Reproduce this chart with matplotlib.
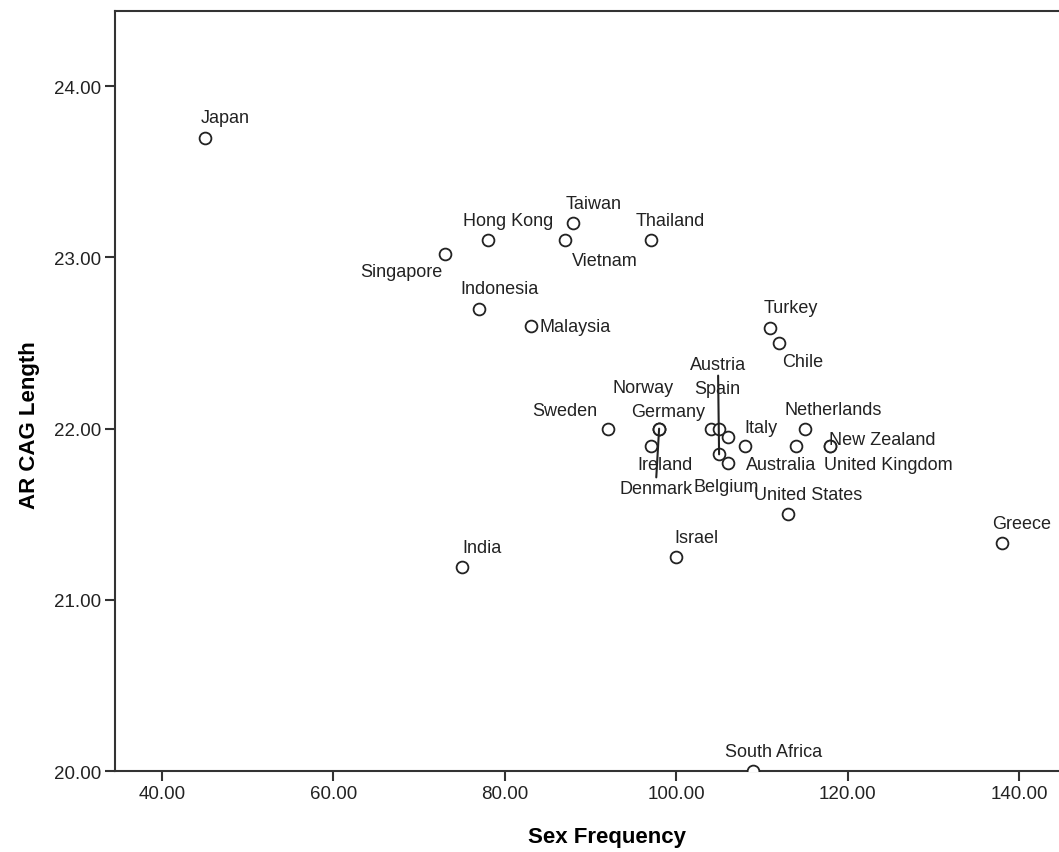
import matplotlib
matplotlib.use("Agg")
import matplotlib.pyplot as plt

# --- data ---
countries = [
    "Japan", "Singapore", "Hong Kong", "Vietnam", "Taiwan", "Thailand",
    "Indonesia", "Malaysia", "Turkey", "Chile", "Sweden", "Norway",
    "Germany", "Denmark", "Ireland", "", "Spain", "Austria", "", "Italy",
    "Belgium", "Netherlands", "Australia", "New Zealand", "United Kingdom",
    "United States", "Greece", "India", "Israel", "South Africa",
]
sex_freq = [
    45, 73, 78, 87, 88, 97,
    77, 83, 111, 112, 92, 98,
    98, 98, 97, 104, 105, 105, 106, 108,
    106, 115, 114, 118, 118,
    113, 138, 75, 100, 109,
]
cag_len = [
    23.70, 23.02, 23.10, 23.10, 23.20, 23.10,
    22.70, 22.60, 22.59, 22.50, 22.00, 22.00,
    22.00, 22.00, 21.90, 22.00, 22.00, 21.85, 21.95, 21.90,
    21.80, 22.00, 21.90, 21.90, 21.90,
    21.50, 21.33, 21.19, 21.25, 20.00,
]

# label placement in pixels relative to the point (default is above, slightly right)
DEFAULT_OFF = (20, 20)
label_offsets = {
    "Singapore": (-44, -17),
    "Vietnam": (40, -20),
    "Malaysia": (45, -1),
    "Chile": (24, -18),
    "Sweden": (-43, 18),
    "Norway": (-16, 41),
    "Germany": (9, 17),
    "Denmark": (-3, -60),
    "Ireland": (14, -19),
    "Spain": (-2, 40),
    "Austria": (-1, 90),
    "Italy": (16, 18),
    "Belgium": (-1, -24),
    "Netherlands": (28, 19),
    "Australia": (-15, -19),
    "New Zealand": (52, 6),
    "United Kingdom": (58, -19),
}
# leader lines: where on the label box the line starts
leader_lines = {"Denmark": (0.5, 1.0), "Austria": (0.5, 0.0)}

plt.rcParams['font.family'] = ['Liberation Sans', 'DejaVu Sans']

fig = plt.figure(figsize=(10.59, 8.53), dpi=100)
ax = fig.add_axes([115 / 1059, 81 / 853, 1 - 115 / 1059, (772 - 12) / 853])

ax.plot(sex_freq, cag_len, linestyle='none', marker='o', markersize=8.5,
        markerfacecolor='white', markeredgecolor='#222222', markeredgewidth=1.3,
        zorder=3)

for name, x, y in zip(countries, sex_freq, cag_len):
    if not name:
        continue
    dx, dy = label_offsets.get(name, DEFAULT_OFF)
    arrow = None
    if name in leader_lines:
        arrow = dict(arrowstyle='-', color='#222222', lw=1.5,
                     shrinkA=0, shrinkB=0, relpos=leader_lines[name])
    ax.annotate(name, (x, y), xytext=(dx, dy), textcoords='offset pixels',
                ha='center', va='center', fontsize=13, color='#222222',
                arrowprops=arrow, zorder=4)

ax.set_xlim(34.5, 144.67)
ax.set_ylim(20.0, 24.44)
ax.set_xticks([40, 60, 80, 100, 120, 140])
ax.set_yticks([20, 21, 22, 23, 24])
ax.xaxis.set_major_formatter(matplotlib.ticker.FormatStrFormatter('%.2f'))
ax.yaxis.set_major_formatter(matplotlib.ticker.FormatStrFormatter('%.2f'))

for lab in ax.get_xticklabels() + ax.get_yticklabels():
    lab.set_fontsize(13.5)
    lab.set_color('#222222')
ax.tick_params(axis='both', direction='out', length=7, width=1.5,
               color='#333333', pad=3)

ax.spines['right'].set_visible(False)
for s in ['left', 'bottom', 'top']:
    ax.spines[s].set_linewidth(1.5)
    ax.spines[s].set_color('#333333')

ax.set_xlabel("Sex Frequency", fontsize=16, fontweight='bold', va='center')
ax.set_ylabel("AR CAG Length", fontsize=16, fontweight='bold', va='center')
ax.xaxis.set_label_coords((607 - 115) / 944, -(838 - 772) / 760)
ax.yaxis.set_label_coords(-(115 - 30) / 944, (772 - 425) / 760)

fig.savefig("out.png", dpi=100)
